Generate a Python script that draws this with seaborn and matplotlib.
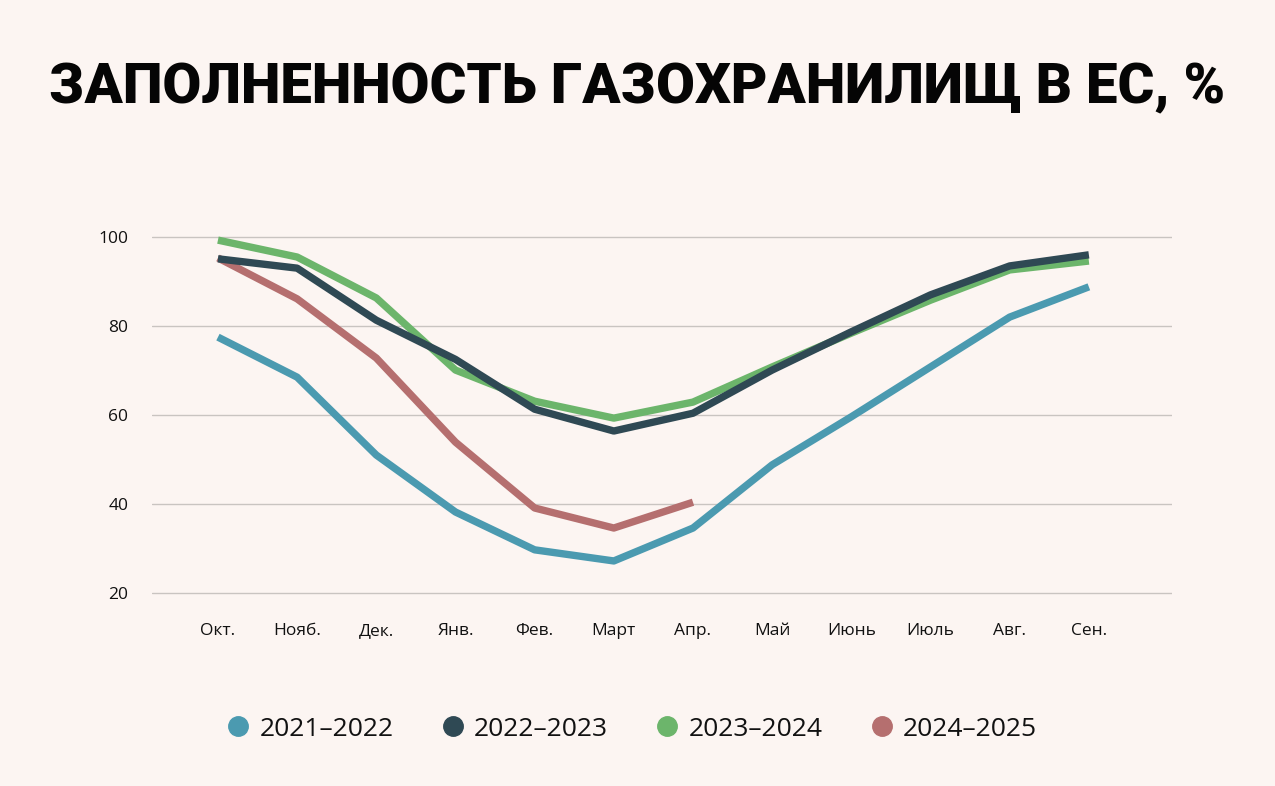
import numpy as np
import pandas as pd
import matplotlib
matplotlib.use("Agg")
import matplotlib.pyplot as plt
from matplotlib.lines import Line2D
import seaborn as sns

months = ["Окт.", "Нояб.", "Дек.", "Янв.", "Фев.", "Март", "Апр.", "Май", "Июнь", "Июль", "Авг.", "Сен."]
s2122 = [77.5, 68.5, 51.0, 38.2, 29.7, 27.2, 34.6, 48.8, 59.6, 70.8, 82.0, 88.8]
s2223 = [95.1, 93.0, 81.3, 72.5, 61.3, 56.4, 60.4, 70.1, 78.7, 87.0, 93.5, 96.0]
s2324 = [99.3, 95.5, 86.3, 70.1, 63.1, 59.3, 62.9, 70.8, 78.4, 85.8, 92.6, 94.6]
s2425 = [95.3, 86.1, 72.8, 53.9, 39.1, 34.6, 40.4]
series_names = ["2021–2022", "2022–2023", "2023–2024", "2024–2025"]
colors = ["#4b9ab0", "#2f4954", "#6cb56b", "#b56f6f"]
yticks = [20, 40, 60, 80, 100]

bg = "#fcf5f2"
sns.set_theme(style="white")
plt.rcParams["font.family"] = ["Open Sans", "DejaVu Sans"]

rows = []
for name, vals in zip(series_names, [s2122, s2223, s2324, s2425]):
    for i, v in enumerate(vals):
        rows.append({"season": name, "x": i, "value": v})
df = pd.DataFrame(rows)

ppu = (593 - 237) / 80.0
y_lo, y_hi = 19.5, 100.5
top_px = 237 - (y_hi - 100) * ppu
bot_px = 593 + (20 - y_lo) * ppu

fig = plt.figure(figsize=(12.75, 7.86), dpi=100, facecolor=bg)
ax = fig.add_axes([152/1275, 1-bot_px/786, (1172-152)/1275, (bot_px-top_px)/786])
ax.set_facecolor(bg)

zorders = {"2021–2022": 3, "2022–2023": 6, "2023–2024": 4, "2024–2025": 5}
for name, col in zip(series_names, colors):
    sub = df[df["season"] == name]
    sns.lineplot(data=sub, x="x", y="value", ax=ax, color=col, linewidth=5.3,
                 sort=False, zorder=zorders[name], legend=False)
for ln in ax.lines:
    ln.set_clip_on(False)
    ln.set_solid_capstyle("butt")

ax.set_xlim(-0.833, 12.05)
ax.set_ylim(y_lo, y_hi)
ax.set_yticks(yticks)
ax.set_yticklabels([str(t) for t in yticks])
ax.set_xticks(range(len(months)))
ax.set_xticklabels(months)
ax.grid(axis="y", color="#c9c4c1", linewidth=1.0, zorder=0)
ax.grid(axis="x", visible=False)
for sp in ax.spines.values():
    sp.set_visible(False)
ax.tick_params(axis="y", length=0, pad=17, labelsize=12.5, labelcolor="#111111")
ax.tick_params(axis="x", length=0, pad=20, labelsize=12.5, labelcolor="#111111")
ax.set_xlabel("")
ax.set_ylabel("")

fig.text(0.5, 1-88/786, "ЗАПОЛНЕННОСТЬ ГАЗОХРАНИЛИЩ В ЕС, %",
         ha="center", va="center", fontsize=40.5, fontweight="black",
         family=["Roboto", "DejaVu Sans"], color="#050505")

handles = [Line2D([0], [0], marker="o", linestyle="", markersize=14,
                  markerfacecolor=c, markeredgecolor=c) for c in colors]
leg = fig.legend(handles, series_names, loc="center", bbox_to_anchor=(0.495, 1-729/786),
                 ncol=4, frameon=False, fontsize=19, handletextpad=0.3,
                 columnspacing=1.75, handlelength=1.0)
for t in leg.get_texts():
    t.set_color("#111111")

fig.savefig("out.png", dpi=100, facecolor=bg)
